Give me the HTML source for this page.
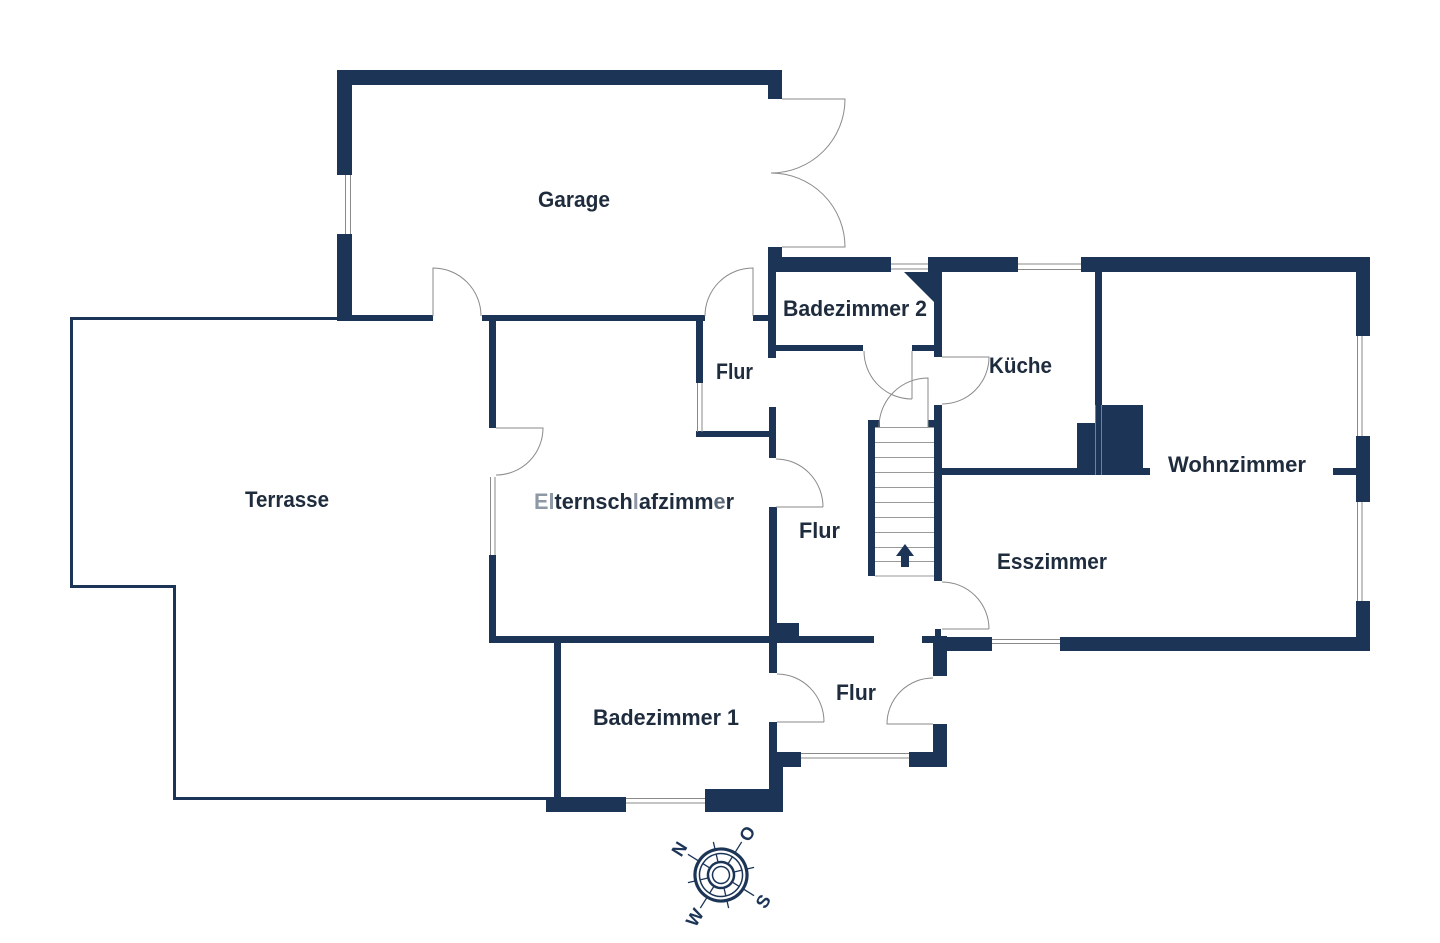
<!DOCTYPE html>
<html>
<head>
<meta charset="utf-8">
<style>
html,body{margin:0;padding:0;background:#ffffff;}
svg{display:block;}
.lbl{font-family:"Liberation Sans",sans-serif;font-weight:bold;font-size:22px;fill:#1f2c3d;}
</style>
</head>
<body>
<svg width="1440" height="943" viewBox="0 0 1440 943" xmlns="http://www.w3.org/2000/svg">
<rect width="1440" height="943" fill="#ffffff"/>

<!-- Terrace outline -->
<polyline points="337,318.5 71.5,318.5 71.5,586.5 174.5,586.5 174.5,798.5 548,798.5" fill="none" stroke="#1c3557" stroke-width="3"/>

<g fill="#1c3557">
<!-- Garage -->
<rect x="337" y="70" width="445" height="15"/>
<rect x="768" y="70" width="14" height="29"/>
<rect x="337" y="70" width="15" height="105"/>
<rect x="337" y="234" width="15" height="87"/>
<rect x="337" y="315" width="96" height="6"/>
<rect x="482" y="315" width="223" height="6"/>
<rect x="753" y="315" width="15" height="6"/>
<rect x="768" y="247" width="14" height="25"/>
<rect x="768" y="257" width="8" height="101"/>

<!-- Bath 2 / Küche / Wohnzimmer top -->
<rect x="768" y="257" width="123" height="15"/>
<rect x="928" y="257" width="90" height="15"/>
<rect x="1081" y="257" width="289" height="15"/>
<rect x="934" y="257" width="8" height="100"/>
<rect x="776" y="345" width="87" height="6"/>
<rect x="912" y="345" width="30" height="6"/>
<polygon points="904,272 935,272 935,303"/>

<!-- Flur top -->
<rect x="696" y="315" width="7" height="68"/>
<rect x="696" y="431" width="80" height="6"/>

<!-- Eltern -->
<rect x="489" y="315" width="7" height="113"/>
<rect x="489" y="555" width="7" height="88"/>
<rect x="489" y="636" width="385" height="7"/>
<rect x="775" y="623" width="24" height="14"/>

<!-- Hall walls -->
<rect x="769" y="407" width="7" height="51"/>
<rect x="769" y="507" width="8" height="166"/>
<rect x="769" y="722" width="8" height="30"/>
<rect x="769" y="752" width="14" height="60"/>
<rect x="777" y="752" width="24" height="15"/>
<rect x="909" y="752" width="38" height="15"/>
<rect x="933" y="724" width="14" height="43"/>
<rect x="933" y="636" width="14" height="40"/>
<rect x="935" y="629" width="6" height="8"/>
<rect x="922" y="636" width="25" height="7"/>
<rect x="933" y="637" width="59" height="14"/>
<rect x="1060" y="637" width="310" height="14"/>

<!-- Stairs walls -->
<rect x="868" y="420" width="7" height="156"/>
<rect x="868" y="420" width="12" height="7"/>
<rect x="928" y="420" width="14" height="7"/>
<rect x="934" y="405" width="8" height="176"/>

<!-- Küche / Wohnzimmer -->
<rect x="942" y="468" width="208" height="7"/>
<rect x="1077" y="423" width="18" height="52"/>
<rect x="1095" y="257" width="7" height="218"/>
<rect x="1102" y="405" width="41" height="70"/>
<rect x="1333" y="468" width="23" height="7"/>
<rect x="1356" y="257" width="14" height="79"/>
<rect x="1356" y="436" width="14" height="66"/>
<rect x="1356" y="601" width="14" height="50"/>

<!-- Bath 1 -->
<rect x="554" y="643" width="7" height="154"/>
<rect x="546" y="797" width="80" height="15"/>
<rect x="705" y="789" width="78" height="23"/>
</g>

<!-- chimney thin lines -->
<g stroke="#8796aa" stroke-width="0.8">
<line x1="1095.5" y1="405" x2="1095.5" y2="475"/>
<line x1="1101.5" y1="405" x2="1101.5" y2="475"/>
</g>

<!-- Windows -->
<g stroke="#8a8a8a" stroke-width="1" fill="none">
<line x1="345.5" y1="175" x2="345.5" y2="234"/>
<line x1="350.5" y1="175" x2="350.5" y2="234"/>
<line x1="490.5" y1="477" x2="490.5" y2="555"/>
<line x1="495" y1="477" x2="495" y2="555"/>
<line x1="697.5" y1="383" x2="697.5" y2="432"/>
<line x1="702" y1="383" x2="702" y2="432"/>
<line x1="891" y1="264" x2="928" y2="264"/>
<line x1="891" y1="269" x2="928" y2="269"/>
<line x1="1018" y1="264" x2="1081" y2="264"/>
<line x1="1018" y1="269.5" x2="1081" y2="269.5"/>
<line x1="1357.5" y1="336" x2="1357.5" y2="436"/>
<line x1="1362" y1="336" x2="1362" y2="436"/>
<line x1="1357.5" y1="502" x2="1357.5" y2="601"/>
<line x1="1362" y1="502" x2="1362" y2="601"/>
<line x1="992" y1="639.5" x2="1060" y2="639.5"/>
<line x1="992" y1="643.5" x2="1060" y2="643.5"/>
<line x1="801" y1="753.5" x2="909" y2="753.5"/>
<line x1="801" y1="758" x2="909" y2="758"/>
<line x1="626" y1="798.5" x2="705" y2="798.5"/>
<line x1="626" y1="803" x2="705" y2="803"/>
</g>

<!-- Doors -->
<g stroke="#8a8a8a" stroke-width="1" fill="none">
<path d="M782,99 L845,99 A74,74 0 0 1 771,173"/>
<path d="M782,247 L845,247 A74,74 0 0 0 771,173"/>
<path d="M433,316 L433,268 A48,48 0 0 1 481,316"/>
<path d="M753,316 L753,268 A48,48 0 0 0 705,316"/>
<path d="M912,351 L912,399 M864,351 A48,48 0 0 0 912,399"/>
<path d="M928,427 L928,378 A49,49 0 0 0 879,427"/>
<path d="M942,357 L989,357 A47,47 0 0 1 942,404"/>
<path d="M942,629 L989,629 M942,582 A47,47 0 0 1 989,629"/>
<path d="M933,724 L887,724 A46,46 0 0 1 933,678"/>
<path d="M777,722 L824,722 M777,674 A47,48 0 0 1 824,722"/>
<path d="M776,507 L823,507 M776,459 A47,48 0 0 1 823,507"/>
<path d="M496,428 L543,428 A47,47 0 0 1 496,475"/>
</g>

<!-- Stair steps -->
<g stroke="#9a9a9a" stroke-width="1">
<line x1="875" y1="427.5" x2="934" y2="427.5"/>
<line x1="875" y1="442.5" x2="934" y2="442.5"/>
<line x1="875" y1="457.5" x2="934" y2="457.5"/>
<line x1="875" y1="472.5" x2="934" y2="472.5"/>
<line x1="875" y1="487.5" x2="934" y2="487.5"/>
<line x1="875" y1="502.5" x2="934" y2="502.5"/>
<line x1="875" y1="517.5" x2="934" y2="517.5"/>
<line x1="875" y1="532.5" x2="934" y2="532.5"/>
<line x1="875" y1="547.5" x2="934" y2="547.5"/>
<line x1="875" y1="561.5" x2="934" y2="561.5"/>
<line x1="875" y1="576" x2="934" y2="576"/>
</g>
<polygon points="905,544 914,556 909,556 909,567 901,567 901,556 896,556" fill="#1c3557"/>

<!-- Labels -->
<text class="lbl" x="538" y="207" textLength="72" lengthAdjust="spacingAndGlyphs">Garage</text>
<text class="lbl" x="783" y="316" textLength="144" lengthAdjust="spacingAndGlyphs">Badezimmer 2</text>
<text class="lbl" x="716" y="379" textLength="37" lengthAdjust="spacingAndGlyphs">Flur</text>
<text class="lbl" x="989" y="373" textLength="63" lengthAdjust="spacingAndGlyphs">Küche</text>
<text class="lbl" x="1168" y="472" textLength="138" lengthAdjust="spacingAndGlyphs">Wohnzimmer</text>
<text class="lbl" x="997" y="569" textLength="110" lengthAdjust="spacingAndGlyphs">Esszimmer</text>
<text class="lbl" x="245" y="507" textLength="84" lengthAdjust="spacingAndGlyphs">Terrasse</text>
<text class="lbl" x="534" y="509" textLength="200" lengthAdjust="spacingAndGlyphs"><tspan fill="#8f99a6">El</tspan>ternsch<tspan fill="#8f99a6">l</tspan>afzimm<tspan fill="#5b6878">e</tspan>r</text>
<text class="lbl" x="799" y="538" textLength="41" lengthAdjust="spacingAndGlyphs">Flur</text>
<text class="lbl" x="836" y="700" textLength="40" lengthAdjust="spacingAndGlyphs">Flur</text>
<text class="lbl" x="593" y="725" textLength="146" lengthAdjust="spacingAndGlyphs">Badezimmer 1</text>

<!-- Compass -->
<g transform="translate(721,875) rotate(-58)" stroke="#1c3557" fill="none">
<circle r="26" stroke-width="3.2"/>
<circle r="21.5" stroke-width="1.5"/>
<circle r="13" stroke-width="2.5"/>
<circle r="8.5" stroke-width="1.5"/>
<g stroke-width="1.3">
<line x1="0" y1="-13" x2="0" y2="-21.5"/>
<line x1="0" y1="13" x2="0" y2="21.5"/>
<line x1="-13" y1="0" x2="-21.5" y2="0"/>
<line x1="13" y1="0" x2="21.5" y2="0"/>
<line x1="9.2" y1="9.2" x2="15.2" y2="15.2"/>
<line x1="-9.2" y1="9.2" x2="-15.2" y2="15.2"/>
<line x1="9.2" y1="-9.2" x2="15.2" y2="-15.2"/>
<line x1="-9.2" y1="-9.2" x2="-15.2" y2="-15.2"/>
<line x1="0" y1="-26" x2="0" y2="-39"/>
<line x1="0" y1="26" x2="0" y2="39"/>
<line x1="26" y1="0" x2="39" y2="0"/>
<line x1="-26" y1="0" x2="-39" y2="0"/>
<line x1="18.4" y1="18.4" x2="24" y2="24"/>
<line x1="-18.4" y1="18.4" x2="-24" y2="24"/>
<line x1="18.4" y1="-18.4" x2="24" y2="-24"/>
<line x1="-18.4" y1="-18.4" x2="-24" y2="-24"/>
</g>
<g fill="#1c3557" stroke="none" font-family="Liberation Sans, sans-serif" font-weight="bold" font-size="18" text-anchor="middle">
<text x="0" y="-43">N</text>
<text x="49" y="6.5">O</text>
<text x="0" y="56">S</text>
<text x="-50" y="6.5">W</text>
</g>
</g>
</svg>
</body>
</html>
